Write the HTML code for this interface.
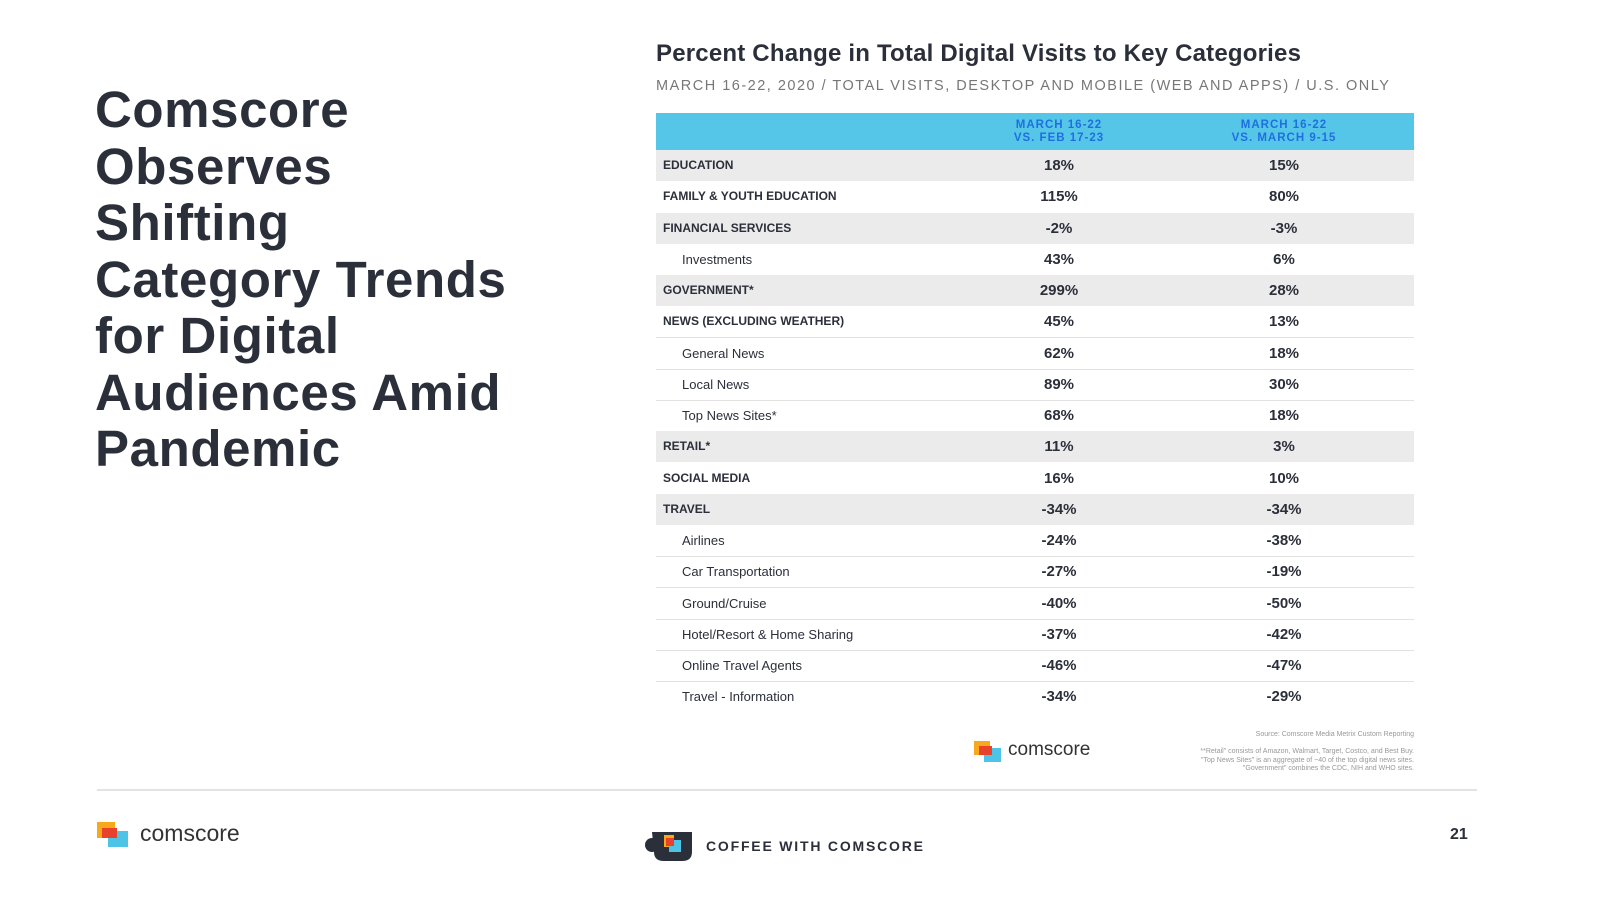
<!DOCTYPE html>
<html><head><meta charset="utf-8">
<style>
body{margin:0;width:1601px;height:901px;background:#fff;position:relative;overflow:hidden;font-family:"Liberation Sans",sans-serif;color:#2b2f3a}
.abs{position:absolute}
#title{left:95px;top:82px;font-size:51px;font-weight:bold;line-height:56.5px;color:#2b2f3a;letter-spacing:0.6px}
#ctitle{left:656px;top:40px;font-size:24px;font-weight:bold;color:#2b2f3a;letter-spacing:0.2px}
#csub{left:656px;top:78px;font-size:14.5px;letter-spacing:1.5px;color:#777}
#hdr{left:656px;top:113px;width:758px;height:37px;background:#55c6e8}
.hc{position:absolute;top:6px;width:200px;text-align:center;font-size:11.5px;font-weight:bold;letter-spacing:1px;color:#1f6fe0;line-height:13px}
.row{position:absolute;left:656px;width:758px;height:31.2px}
.lab{position:absolute;top:0;line-height:31px;font-size:12px;color:#2b2f3a}
.v{position:absolute;top:0;line-height:31px;width:200px;text-align:center;font-size:15px;font-weight:bold;color:#2b2f3a}
</style></head><body>
<div id="title" class="abs">Comscore<br>Observes<br>Shifting<br>Category Trends<br>for Digital<br>Audiences Amid<br>Pandemic</div>
<div id="ctitle" class="abs">Percent Change in Total Digital Visits to Key Categories</div>
<div id="csub" class="abs">MARCH 16-22, 2020 / TOTAL VISITS, DESKTOP AND MOBILE (WEB AND APPS) / U.S. ONLY</div>
<div id="hdr" class="abs">
<div class="hc" style="left:303px">MARCH 16-22<br>VS. FEB 17-23</div>
<div class="hc" style="left:528px">MARCH 16-22<br>VS. MARCH 9-15</div>
</div>
<div id="rows"></div>

<svg class="abs" style="left:974px;top:741px" width="28" height="22"><rect x="0" y="0" width="16" height="14" fill="#f7a81b"/><rect x="10" y="7" width="17" height="14" fill="#4dc3e6"/><rect x="5" y="5" width="13" height="9" fill="#e8412c"/></svg>
<div class="abs" style="left:1008px;top:739px;font-size:19px;color:#333">comscore</div>
<div class="abs" style="left:1100px;top:731px;width:314px;text-align:right;font-size:7px;line-height:8.5px;color:#999">Source: Comscore Media Metrix Custom Reporting<br><br>**Retail" consists of Amazon, Walmart, Target, Costco, and Best Buy.<br>"Top News Sites" is an aggregate of ~40 of the top digital news sites.<br>"Government" combines the CDC, NIH and WHO sites.</div>

<div class="abs" style="left:97px;top:789px;width:1380px;height:2px;background:#e3e3e3"></div>
<svg class="abs" style="left:97px;top:822px" width="32" height="26"><rect x="0" y="0" width="18" height="16" fill="#f7a81b"/><rect x="11" y="9" width="20" height="16" fill="#4dc3e6"/><rect x="5" y="6" width="15" height="10" fill="#e8412c"/></svg>
<div class="abs" style="left:140px;top:820px;font-size:23px;color:#333">comscore</div>
<svg class="abs" style="left:644px;top:830px" width="52" height="32"><ellipse cx="8" cy="15" rx="7" ry="7" fill="#2b2f3a"/><path d="M8 2 H48 V22 Q48 31 38 31 H20 Q10 31 10 22 Z" fill="#2b2f3a"/><rect x="20" y="5" width="10" height="12" fill="#f7a81b"/><rect x="25" y="10" width="12" height="12" fill="#4dc3e6"/><rect x="22" y="8" width="8" height="8" fill="#e8412c"/></svg>
<div class="abs" style="left:706px;top:838px;font-size:14px;font-weight:bold;letter-spacing:1.8px;color:#2b2f3a">COFFEE WITH COMSCORE</div>
<div class="abs" style="left:1450px;top:826px;font-size:16px;font-weight:bold;color:#2b2f3a">21</div>

<script>
const categories=["EDUCATION","FAMILY & YOUTH EDUCATION","FINANCIAL SERVICES","Investments","GOVERNMENT*","NEWS (EXCLUDING WEATHER)","General News","Local News","Top News Sites*","RETAIL*","SOCIAL MEDIA","TRAVEL","Airlines","Car Transportation","Ground/Cruise","Hotel/Resort & Home Sharing","Online Travel Agents","Travel - Information"];
const isTop=[1,1,1,0,1,1,0,0,0,1,1,1,0,0,0,0,0,0];
const shaded=[1,0,1,0,1,0,0,0,0,1,0,1,0,0,0,0,0,0];
const vsFeb=[18,115,-2,43,299,45,62,89,68,11,16,-34,-24,-27,-40,-37,-46,-34];
const vsMar=[15,80,-3,6,28,13,18,30,18,3,10,-34,-38,-19,-50,-42,-47,-29];
const top0=150,pitch=31.25;
const c=document.getElementById('rows');
categories.forEach((cat,i)=>{
  const r=document.createElement('div');
  
  
  r.className='row';
  r.style.top=(top0+i*pitch)+'px';
  if(shaded[i]) r.style.background='#ebebeb';
  else if(i<categories.length-1 && !shaded[i+1]) r.style.borderBottom='1px solid #e2e2e2';
  const l=document.createElement('div');
  
  
  l.className='lab';
  l.textContent=cat;
  if(isTop[i]){l.style.left='7px';l.style.fontWeight='bold';l.style.fontSize='12px';}
  else{l.style.left='26px';l.style.fontSize='13px';}
  r.appendChild(l);
  [[vsFeb,303],[vsMar,528]].forEach(([arr,x])=>{
    const v=document.createElement('div');
    
    
    v.className='v';v.style.left=x+'px';
    v.textContent=arr[i]+'%';
    r.appendChild(v);
  });
  c.appendChild(r);
});
</script>
</body></html>
